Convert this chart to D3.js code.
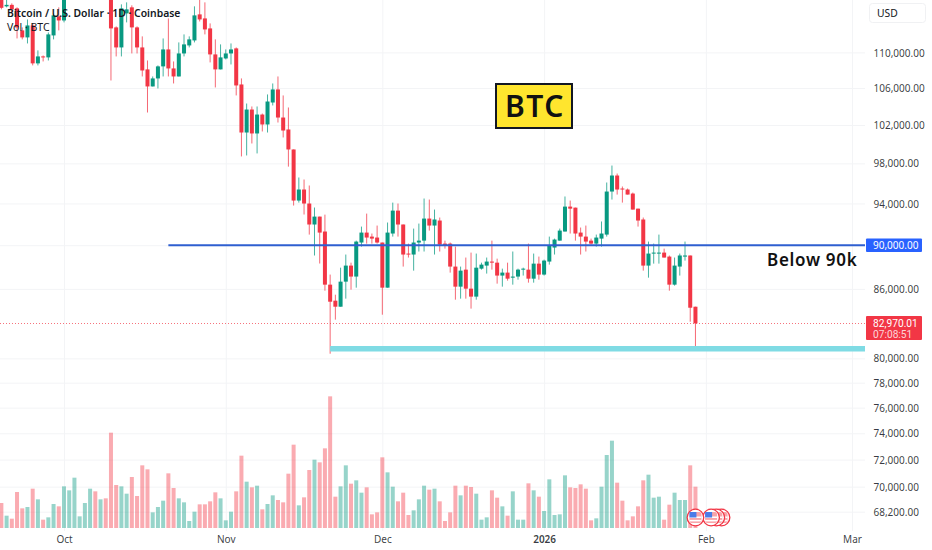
<!DOCTYPE html>
<html>
<head>
<meta charset="utf-8">
<script src="https://cdn.jsdelivr.net/npm/d3@7"></script>
<style>
  html, body { margin: 0; padding: 0; background: #fff; }
  svg { display: block; }
  text { font-family: "Noto Sans", sans-serif; }
</style>
</head>
<body>
<svg id="chart" width="932" height="550"></svg>
<script>
// daily candles, first one is 19 Sep 2025
// Oct 2 - Oct 9 run above the top of the pane
var firstDay = new Date(Date.UTC(2025, 8, 19));

var opens = [
  116480,115400,115580,115160,112550,111730,113130,108750,109540,109430,111960,114200,
  113720,118600,120600,122300,122400,123500,124700,121400,123300,121700,112900,110570,
  114560,115280,112900,110570,108070,106170,107060,108410,110340,108180,107280,109880,
  110800,111380,114440,113960,112780,109770,108070,109310,109880,110460,106390,101200,
  103650,101100,103110,102050,104410,105840,102790,101520,99430,94280,95370,93990,
  91960,92720,91290,86380,84950,84420,86650,88110,87110,90250,91190,90810,
  90720,90250,86110,91100,93300,91960,89220,89130,90250,90430,92530,91860,
  92340,90150,90150,88020,86200,87740,86020,85310,87830,88110,88480,88380,
  87200,87470,87010,87110,87740,87740,86920,88290,87290,88480,89780,90430,
  91290,93690,93590,91190,90810,90430,90150,90620,91000,95170,96770,95470,
  95370,94970,93490,92440,88110,89220,89220,89310,88940,86380,88020,88940,
  89040,84420
];
var highs = [
  116850,116240,115760,115280,112900,113840,113370,110230,109650,112310,114560,115280,
  119000,121000,123900,122900,125700,126200,125100,124100,123700,122500,113020,115640,
  115880,115520,113020,111850,109080,107280,108520,111610,113960,108970,111150,112080,
  111850,115400,116360,115880,113370,111500,110920,110340,111030,110570,107060,104300,
  103980,103980,103220,105290,106500,107280,105180,103870,99430,96570,96370,95770,
  93600,92720,92910,87290,85480,87920,89130,88380,90430,91760,93010,91100,
  91860,90250,92150,94080,93990,91960,90150,91570,92050,94480,94380,93400,
  92630,90430,90250,89870,88020,88850,89310,89220,88380,88850,90430,88750,
  87830,88380,89410,87830,87920,90150,89220,88940,88660,90810,90620,91570,
  94680,94280,93590,91670,91860,90620,91000,92250,96070,97780,96970,95670,
  95470,95070,93490,92630,90340,90150,91000,89680,89040,88850,89220,90340,
  89040,84420
];
var lows = [
  115040,115280,114560,111610,111500,111030,108520,108520,108970,109080,111500,112550,
  113490,118400,119300,121500,122100,123000,120600,121000,119900,106830,109540,109540,
  113490,109880,109880,107280,103330,106170,105950,107280,107280,106500,107280,109540,
  110570,111150,113600,112080,108860,106060,108070,109200,108630,105180,98710,98810,
  100050,99020,101310,101200,104090,102260,100680,97670,93790,94080,92920,91000,
  89040,88300,85840,80390,83290,84420,85130,85930,86110,89870,90150,90150,
  90150,83720,86110,90810,90810,88020,88850,87650,89410,89410,91380,89130,
  89410,89680,87470,85040,85130,85130,84250,85040,87740,87380,87740,86470,
  86200,86740,86380,86830,87200,86560,86560,86830,87200,88200,89130,90430,
  91290,91100,90430,89130,89410,90060,89870,89870,90810,94380,94870,94080,
  94870,93400,91760,87650,87010,88290,88290,88850,85840,86290,87200,88570,
  83110,80890
];
var closes = [
  115220,115580,115040,112900,111730,113130,108750,109540,109430,112080,114320,113720,
  118600,120600,122300,122400,123500,124700,121400,123300,121700,112780,110570,115160,
  115040,112900,110570,107950,106170,107060,108410,110340,108180,107280,109880,110920,
  111500,114320,113840,112660,109770,108070,109430,109880,110340,106280,101200,103650,
  101100,103110,102050,104520,105840,102790,101410,99430,94280,95370,93990,91960,
  92720,91190,86380,84860,84420,86650,88110,87110,90340,91190,90720,90620,
  90250,86110,91190,93300,91960,89130,89130,90250,90430,92530,91860,92440,
  90060,89970,88020,86200,87650,86020,85310,87920,88200,88480,88380,87200,
  87470,86920,87110,87740,87830,86920,88290,87290,88570,89970,90530,91380,
  93690,93490,91100,90810,90340,90150,90720,91100,95170,96770,95370,95370,
  94870,93400,92340,88110,89220,89310,89310,88850,86380,88110,89040,89040,
  84330,82970
];
// in hundreds of BTC
var volumes = [
  75,37,28,108,59,63,118,86,25,32,72,65,
  125,113,151,35,75,118,110,86,89,286,129,125,
  103,153,96,188,176,47,63,82,164,120,89,77,
  21,49,71,71,80,107,89,23,49,110,217,139,
  122,127,56,72,98,84,77,163,250,68,92,174,
  205,197,239,395,94,125,188,133,143,106,122,41,
  47,212,167,124,80,106,39,53,86,127,115,118,
  80,21,47,127,98,127,123,103,25,32,113,91,
  65,37,110,25,25,134,113,94,51,146,39,41,
  158,122,120,131,118,23,29,124,219,262,136,82,
  23,35,65,143,160,91,94,25,70,106,84,84,
  188,124
];

var priceTicks = [110000,106000,102000,98000,94000,90000,86000,80000,78000,76000,74000,72000,70000,68200];
var monthTicks = [
  new Date(Date.UTC(2025, 9, 1)), new Date(Date.UTC(2025, 10, 1)), new Date(Date.UTC(2025, 11, 1)),
  new Date(Date.UTC(2026, 0, 1)), new Date(Date.UTC(2026, 1, 1)), new Date(Date.UTC(2026, 2, 1))
];
var monthLabels = ["Oct", "Nov", "Dec", "2026", "Feb", "Mar"];

var lastPrice = 82970.01;
var countdown = "07:08:51";
var targetPrice = 90000;
var targetStart = new Date(Date.UTC(2025, 9, 21));
var supportPrice = 80810;
var supportStart = new Date(Date.UTC(2025, 10, 21));
var flagDays = [
  new Date(Date.UTC(2026, 1, 4)), new Date(Date.UTC(2026, 1, 3)),
  new Date(Date.UTC(2026, 1, 2)), new Date(Date.UTC(2026, 0, 30))
];

var GREEN = "#089981", RED = "#f23645", BLUE = "#2962ff", GRID = "#f3f4f6", TEXT = "#131722";

var paneRight = 865, paneBottom = 528;

var candles = opens.map(function(o, i) {
  return {
    day: d3.utcDay.offset(firstDay, i),
    open: o, high: highs[i], low: lows[i], close: closes[i], volume: volumes[i]
  };
});
function colour(d) { return d.close >= d.open ? GREEN : RED; }

var xScale = d3.scaleUtc()
  .domain([monthTicks[0], monthTicks[5]])
  .range([64, 852]);
var yScale = d3.scaleLog()
  .domain([110000, 68200])
  .range([52.4, 511.7]);
var volScale = d3.scaleLinear()
  .domain([0, 396])
  .range([paneBottom, paneBottom - 132]);

var svg = d3.select("#chart");

svg.append("defs").append("clipPath").attr("id", "pane")
  .append("rect").attr("width", paneRight).attr("height", paneBottom + 8);

// grid, through the axes
var gridY = svg.append("g")
  .call(d3.axisRight(yScale).tickValues(priceTicks).tickSize(paneRight).tickFormat(""));
gridY.select(".domain").remove();
gridY.selectAll("line").attr("stroke", GRID);

var gridX = svg.append("g")
  .call(d3.axisBottom(xScale).tickValues(monthTicks).tickSize(paneBottom + 3).tickFormat(""));
gridX.select(".domain").remove();
gridX.selectAll("line").attr("stroke", GRID);

var pane = svg.append("g").attr("clip-path", "url(#pane)");

// volume
pane.append("g").selectAll("rect").data(candles).enter().append("rect")
  .attr("x", function(d) { return xScale(d.day) - 2; })
  .attr("width", 4)
  .attr("y", function(d) { return volScale(d.volume); })
  .attr("height", function(d) { return volScale(0) - volScale(d.volume); })
  .attr("fill", colour)
  .attr("fill-opacity", 0.42);

// last price line, snapped to a pixel row so the dots stay pink
var lastY = Math.floor(yScale(lastPrice)) + 0.5;
pane.append("line")
  .attr("x1", 0).attr("x2", paneRight)
  .attr("y1", lastY).attr("y2", lastY)
  .attr("stroke", RED).attr("stroke-opacity", 0.7)
  .attr("stroke-dasharray", "1,2");

// candles
pane.append("g").selectAll("line").data(candles).enter().append("line")
  .attr("x1", function(d) { return xScale(d.day); })
  .attr("x2", function(d) { return xScale(d.day); })
  .attr("y1", function(d) { return yScale(d.high); })
  .attr("y2", function(d) { return yScale(d.low); })
  .attr("stroke", colour)
  .attr("stroke-opacity", 0.75);

pane.append("g").selectAll("rect").data(candles).enter().append("rect")
  .attr("x", function(d) { return xScale(d.day) - 2; })
  .attr("width", 4)
  .attr("y", function(d) { return yScale(Math.max(d.open, d.close)); })
  .attr("height", function(d) { return Math.max(1, yScale(Math.min(d.open, d.close)) - yScale(Math.max(d.open, d.close))); })
  .attr("fill", colour);

// drawn levels
pane.append("line")
  .attr("x1", xScale(supportStart)).attr("x2", paneRight)
  .attr("y1", yScale(supportPrice)).attr("y2", yScale(supportPrice))
  .attr("stroke", "#7fdbe4").attr("stroke-width", 5.5);
pane.append("line")
  .attr("x1", xScale(targetStart)).attr("x2", paneRight)
  .attr("y1", yScale(targetPrice)).attr("y2", yScale(targetPrice))
  .attr("stroke", "#2f5fd0").attr("stroke-width", 2);

// earnings flags
var flags = svg.append("g").selectAll("g").data(flagDays).enter().append("g")
  .attr("transform", function(d) { return "translate(" + xScale(d) + ",517.5)"; });
flags.append("circle").attr("r", 8.3).attr("fill", "#fff").attr("stroke", RED).attr("stroke-width", 1.3);
flags.append("rect").attr("x", -6).attr("y", -5.5).attr("width", 12).attr("height", 11).attr("rx", 2).attr("fill", "#f8a5aa");
flags.append("rect").attr("x", -6).attr("y", -1).attr("width", 12).attr("height", 1.5).attr("fill", "#fff");
flags.append("rect").attr("x", -6).attr("y", 2.4).attr("width", 12).attr("height", 1.5).attr("fill", "#fff");
flags.append("rect").attr("x", -6).attr("y", -5.5).attr("width", 7).attr("height", 5.5).attr("fill", "#4a7ce8");

// price axis
var yAxis = svg.append("g")
  .attr("transform", "translate(873.5,0.4)")
  .call(d3.axisRight(yScale).tickValues(priceTicks).tickSize(0).tickPadding(0)
    .tickFormat(d3.format(",.2f")));
yAxis.select(".domain").remove();
yAxis.selectAll("text").attr("font-size", 10).attr("fill", TEXT).attr("fill-opacity", 0.85);

// time axis
var xAxis = svg.append("g")
  .attr("transform", "translate(0,533)")
  .call(d3.axisBottom(xScale).tickValues(monthTicks).tickSize(0).tickPadding(3)
    .tickFormat(function(d, i) { return monthLabels[i]; }));
xAxis.select(".domain").remove();
xAxis.selectAll("text").attr("font-size", 10).attr("fill", TEXT).attr("fill-opacity", 0.85)
  .attr("font-weight", function(d, i) { return monthLabels[i] == "2026" ? 600 : 400; });

// currency button
svg.append("rect")
  .attr("x", 869.5).attr("y", 3.5).attr("width", 56).attr("height", 19).attr("rx", 3)
  .attr("fill", "#fff").attr("stroke", "#f0f1f3");
svg.append("text").attr("x", 877).attr("y", 17).attr("font-size", 10.3).attr("fill", TEXT).text("USD");

// price tags
svg.append("rect").attr("x", 866).attr("y", yScale(targetPrice) - 6.8)
  .attr("width", 56).attr("height", 13.6).attr("rx", 1).attr("fill", BLUE);
svg.append("text").attr("x", 873).attr("y", yScale(targetPrice) + 3.6)
  .attr("font-size", 10).attr("fill", "#fff").text(d3.format(",.2f")(targetPrice));

svg.append("rect").attr("x", 866).attr("y", yScale(lastPrice) - 7.4)
  .attr("width", 56).attr("height", 24).attr("rx", 1).attr("fill", RED);
svg.append("text").attr("x", 873).attr("y", yScale(lastPrice) + 3.2)
  .attr("font-size", 10.2).attr("style", "font-family:Roboto").attr("fill", "#fff").text(d3.format(",.2f")(lastPrice));
svg.append("text").attr("x", 873).attr("y", yScale(lastPrice) + 15)
  .attr("font-size", 10.2).attr("style", "font-family:Roboto").attr("fill", "#fff").attr("fill-opacity", 0.8).text(countdown);

// legend text
svg.append("text").attr("x", 7).attr("y", 17).attr("font-size", 10.4).attr("font-weight", 600)
  .attr("fill", TEXT).text("Bitcoin / U.S. Dollar · 1D · Coinbase");
svg.append("text").attr("x", 7).attr("y", 30.5).attr("font-size", 10.5)
  .attr("fill", TEXT).text("Vol · BTC");

// notes on the chart
svg.append("rect").attr("x", 496).attr("y", 84).attr("width", 76).attr("height", 44)
  .attr("fill", "#ffe52e").attr("stroke", "#131722").attr("stroke-width", 2);
svg.append("text").attr("x", 535).attr("y", 116.5).attr("text-anchor", "middle")
  .attr("font-size", 30).attr("font-weight", 600).attr("letter-spacing", 1.5).attr("fill", "#111").text("BTC");
svg.append("text").attr("x", 767).attr("y", 266).attr("font-size", 17).attr("font-weight", 600)
  .attr("letter-spacing", 0.7).attr("fill", "#111").text("Below 90k");
</script>
</body>
</html>
